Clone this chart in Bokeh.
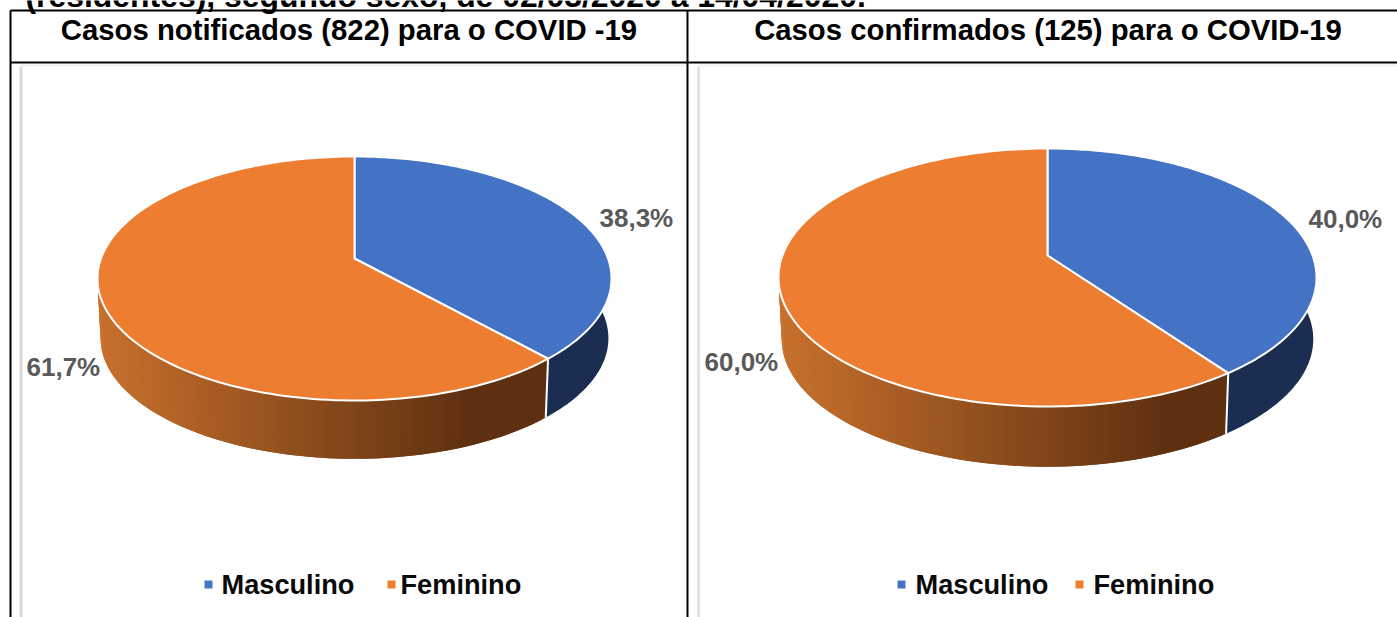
import math
from bokeh.plotting import figure
from bokeh.models import Range1d
from bokeh.core.properties import value
from bokeh.embed import file_html
from bokeh.resources import INLINE

# ---- data ----
categories = ["Masculino", "Feminino"]
notificados = [38.3, 61.7]
confirmados = [40.0, 60.0]
headers = ["Casos notificados (822) para o COVID -19", "Casos confirmados (125) para o COVID-19"]
title_line = "(residentes), segundo sexo, de 02/03/2020 a 14/04/2020."

# ---- style / layout ----
W, H = 1397, 617
BLUE, ORANGE, NAVY = "#4472C4", "#ED7D31", "#1B2D50"
GRAD_L, GRAD_R = (200, 113, 45), (94, 48, 16)
FONT = value("Liberation Sans")

p = figure(width=W, height=H, output_backend="svg", toolbar_location=None,
           x_range=Range1d(0, W), y_range=Range1d(H, 0), min_border=0,
           outline_line_color=None, background_fill_color="white")
p.axis.visible = False
p.grid.visible = False


def draw_pie(vals, vx, vy, x_min, x_max, y_top, y_bot, depth, label_pos, leg_x):
    far, near = vy - y_top, y_bot - vy
    k = (near - far) / (near + far)
    B = far * (1 + k)
    A = (x_max - x_min) / 2 * math.sqrt(1 - k * k)
    s = 0.988

    def top(th):
        t = math.radians(th)
        u, v = math.sin(t), math.cos(t)
        w = 1 + k * v
        return vx + A * u / w, vy - B * v / w

    def bot(th):
        x, y = top(th)
        return vx + s * (x - vx), vy + s * (y - vy) + depth

    seam = vals[0] / sum(vals) * 360
    # navy side
    ths = [85 + (seam - 85) * i / 60 for i in range(61)]
    xs = [top(t)[0] for t in ths] + [bot(t)[0] for t in reversed(ths)]
    ys = [top(t)[1] for t in ths] + [bot(t)[1] for t in reversed(ths)]
    p.patch(xs, ys, fill_color=NAVY, line_color=None)
    # orange side with gradient strips, each overlapping the next
    n = 140
    end = 275
    step = (end - seam) / n
    qx, qy, qc = [], [], []
    for i in range(n):
        a = seam + step * i
        b = a + step * (2 if i < n - 1 else 1)
        qx.append([top(a)[0], top(b)[0], bot(b)[0], bot(a)[0]])
        qy.append([top(a)[1], top(b)[1], bot(b)[1], bot(a)[1]])
        mx = sum(qx[-1]) / 4
        f = min(max((mx - x_min) / (0.72 * (x_max - x_min)), 0), 1)
        c = [round(GRAD_L[j] + (GRAD_R[j] - GRAD_L[j]) * f) for j in range(3)]
        qc.append("#%02x%02x%02x" % tuple(c))
    p.patches(qx, qy, fill_color=qc, line_color=None)
    # seam
    p.line([top(seam)[0], bot(seam)[0]], [top(seam)[1], bot(seam)[1]], line_color="white", line_width=2)
    # top face
    for start, stop, col in [(0, seam, BLUE), (seam, 360, ORANGE)]:
        m = 160
        ths = [start + (stop - start) * i / m for i in range(m + 1)]
        xs = [vx] + [top(t)[0] for t in ths]
        ys = [vy] + [top(t)[1] for t in ths]
        p.patch(xs, ys, fill_color=col, line_color="white", line_width=2, line_join="round")
    # labels
    for val, (lx, ly) in zip(vals, label_pos):
        p.text([lx], [ly], text=[f"{val:.1f}".replace(".", ",") + "%"], text_font=FONT, text_font_style="bold",
               text_font_size="26px", text_color="#595959", text_align="left", text_baseline="middle")
    # legend
    cols = [BLUE, ORANGE]
    for name, col, (sx, tx) in zip(categories, cols, leg_x):
        p.rect([sx], [584], width=8, height=8, fill_color=col, line_color=None)
        p.text([tx], [584], text=[name], text_font=FONT, text_font_style="bold", text_font_size="27.2px",
               text_color="#0a0a0a", text_align="left", text_baseline="middle")


# table + frames
p.line([20.5, 20.5], [66, H], line_color="#D9D9D9", line_width=3)
p.line([20, 686], [65, 65], line_color="#F0F0F0", line_width=2)
p.line([698, 698], [66, H], line_color="#E3E3E3", line_width=3)
p.line([698, W], [65, 65], line_color="#F2F2F2", line_width=2)
p.line([10, 10], [10, H], line_color="black", line_width=2)
p.line([687, 687], [10, H], line_color="black", line_width=2)
p.line([10, W], [10, 10], line_color="black", line_width=2)
p.line([10, W], [62, 62], line_color="black", line_width=2)

draw_pie(notificados, 354, 258, 97, 611, 156, 400, 60,
         [(599, 217), (26, 366)], [(208, 221), (391, 400)])
draw_pie(confirmados, 1047, 255, 778, 1316, 148, 406, 62,
         [(1308, 218), (704, 361)], [(901, 915), (1079, 1093)])

p.text([25], [-4.5], text=[title_line], text_font=FONT, text_font_style="bold", text_font_size="31.9px",
       text_color="black", text_align="left", text_baseline="alphabetic")
p.text([348.5, 1047.5], [29, 29], text=headers, text_font=FONT, text_font_style="bold", text_font_size="29.3px",
       text_color="black", text_align="center", text_baseline="middle")

open("out.html", "w").write(file_html(p, INLINE))
